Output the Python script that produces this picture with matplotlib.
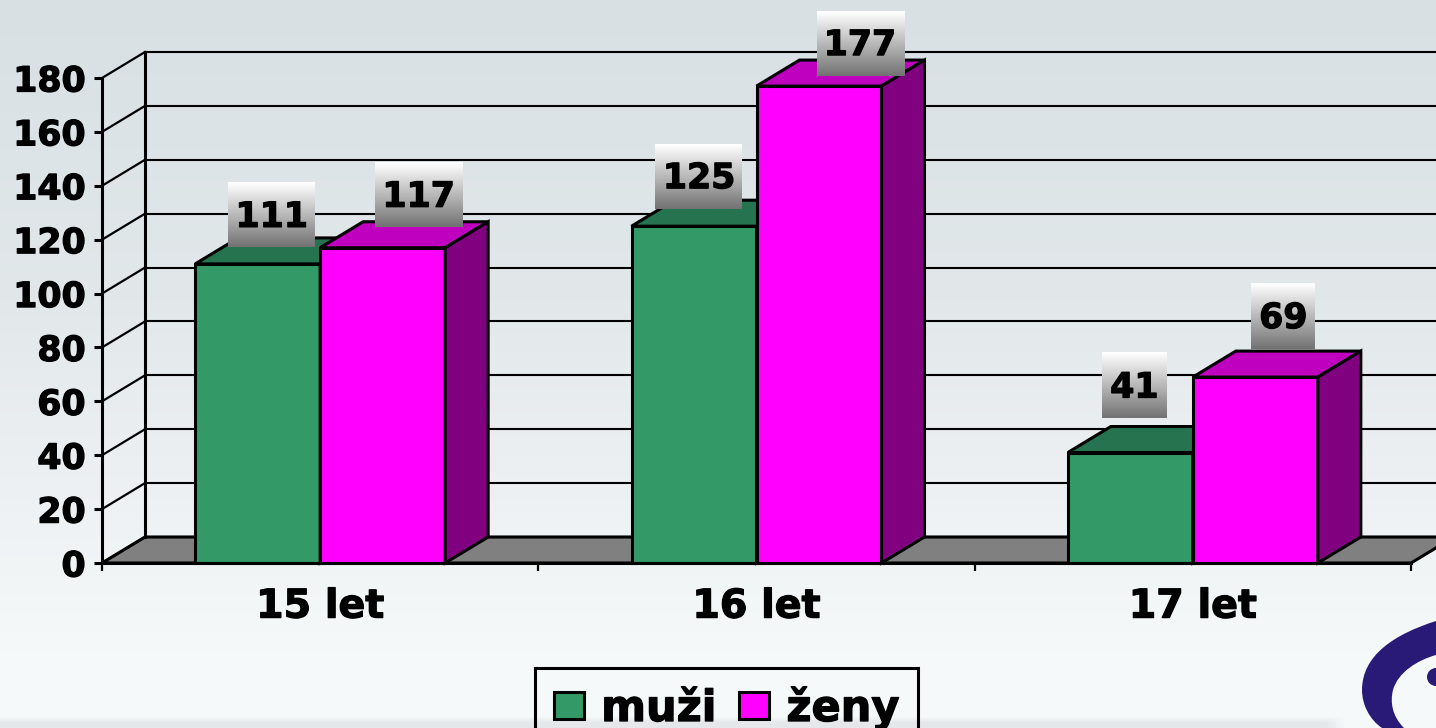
import numpy as np
import matplotlib
matplotlib.use("Agg")
import matplotlib.pyplot as plt
import matplotlib.patheffects as pe
from matplotlib.patches import Patch, Polygon, PathPatch
from matplotlib.path import Path

plt.rcParams['font.family'] = ['DejaVu Sans']
plt.rcParams['font.weight'] = 'bold'

# values
categories = ["15 let", "16 let", "17 let"]
series_names = ["muži", "ženy"]
muzi = [111, 125, 41]
zeny = [117, 177, 69]
y_ticks = list(range(0, 181, 20))

# colours per series: front, top, side
green = ("#339966", "#267350", "#1a4d33")
magenta = ("#ff00ff", "#bf00bf", "#800080")

# hand moved data labels, offset from the bar centre/top in pixels
muzi_label_offset = [(14, -49), (5, -50), (4, -67)]
zeny_label_offset = [(36, -53), (41, -43), (28, -61)]

W, H = 1436, 728
X0, X1 = 102, 1411
Y0, Y180 = 563, 78
DEPTH_X, DEPTH_Y = 43, 26
BAR_W = 125
LW = 2.2
LABEL_FS = 25
# the reference glyphs are heavier than DejaVu bold
HEAVY = [pe.withStroke(linewidth=0.9, foreground="black")]

px_x = 3 / (X1 - X0)
px_y = 180 / (Y0 - Y180)
dx = DEPTH_X * px_x
dy = DEPTH_Y * px_y
bar_w = BAR_W * px_x

fig = plt.figure(figsize=(W / 100, H / 100), dpi=100)

# background gradient and logo, in pixel coordinates
bg = fig.add_axes([0, 0, 1, 1], zorder=0)
bg.set_axis_off()
ys = [0, 300, 500, 650, 728]
stops = np.array([[216, 224, 228], [226, 232, 234], [238, 241, 243], [245, 249, 249], [246, 249, 249]]) / 255
base = np.stack([np.interp(np.arange(H), ys, stops[:, c]) for c in range(3)], axis=1)
img = np.repeat(base[:, None, :], W, axis=1)
# grey band at the foot fades out near the logo
band = np.clip((np.arange(H) - 716) / 6, 0, 1)[:, None, None] * np.clip((1345 - np.arange(W)) / 20, 0, 1)[None, :, None]
img = img * (1 - band) + np.array([228, 232, 234]) / 255 * band
bg.imshow(img, extent=(0, W, H, 0), aspect='auto', zorder=0)
bg.set_xlim(0, W)
bg.set_ylim(H, 0)

logo_verts = [(1436, 621), (1395, 634), (1362, 655), (1362, 690),
              (1362, 705), (1370, 720), (1382, 728),
              (1404, 728), (1404, 728), (1404, 728),
              (1392, 716), (1390, 702), (1393, 690),
              (1398, 672), (1418, 660), (1436, 655), (1436, 621)]
logo_codes = [Path.MOVETO, Path.CURVE4, Path.CURVE4, Path.CURVE4,
              Path.CURVE4, Path.CURVE4, Path.CURVE4,
              Path.LINETO, Path.LINETO, Path.LINETO,
              Path.CURVE4, Path.CURVE4, Path.CURVE4,
              Path.CURVE4, Path.CURVE4, Path.CURVE4, Path.LINETO]
bg.add_patch(PathPatch(Path(logo_verts, logo_codes), fc="#2a1a78", ec="none", zorder=1))
bg.add_patch(plt.Circle((1436, 677), 9, fc="#2a1a78", ec="none", zorder=1))

# main axes: x 0..3 and y 0..180 are the front plane of the 3D box
ax = fig.add_axes([X0 / W, 1 - Y0 / H, (X1 - X0) / W, (Y0 - Y180) / H], zorder=1)
ax.patch.set_alpha(0)
ax.set_xlim(0, 3)
ax.set_ylim(0, 180)
for s in ["top", "right"]:
    ax.spines[s].set_visible(False)
for s in ["left", "bottom"]:
    ax.spines[s].set_linewidth(LW)
    ax.spines[s].set_zorder(6)

ax.set_yticks(y_ticks)
ax.tick_params(axis='y', length=5.8, width=LW, pad=6, labelsize=LABEL_FS)
ax.set_xticks([0, 1, 2, 3])
ax.set_xticklabels([])
ax.tick_params(axis='x', length=5.8, width=1.6)
ax.set_xticks([0.5, 1.5, 2.5], minor=True)
ax.set_xticklabels(categories, minor=True, fontsize=28.5)
ax.tick_params(axis='x', which='minor', length=0, pad=17)
for t in ax.get_yticklabels() + ax.get_xticklabels(minor=True):
    t.set_path_effects(HEAVY)

# floor and walls
ax.add_patch(Polygon([(0, 0), (3, 0), (3 + dx, dy), (dx, dy)], fc="#808080", ec="black",
                     lw=LW, clip_on=False, zorder=1))
ax.plot([dx, dx], [dy, 180 + dy], color="black", lw=LW, clip_on=False, zorder=1)
for v in y_ticks:
    ax.plot([0, dx], [v, v + dy], color="black", lw=1.6, clip_on=False, zorder=1)
    ax.plot([dx, 3 + dx], [v + dy, v + dy], color="black", lw=1.5, clip_on=False, zorder=1)


def draw_bar(left, value, colours):
    right = left + bar_w
    ax.add_patch(Polygon([(left, 0), (right, 0), (right, value), (left, value)], fc=colours[0],
                         ec="black", lw=LW, joinstyle='miter', clip_on=False, zorder=3))
    ax.add_patch(Polygon([(left, value), (right, value), (right + dx, value + dy), (left + dx, value + dy)],
                         fc=colours[1], ec="black", lw=LW, joinstyle='miter', clip_on=False, zorder=3))
    ax.add_patch(Polygon([(right, 0), (right + dx, dy), (right + dx, value + dy), (right, value)],
                         fc=colours[2], ec="black", lw=LW, joinstyle='miter', clip_on=False, zorder=3))


def draw_label(cx, value, offset):
    # white to grey gradient box with the number on it
    x = cx + offset[0] * px_x
    y = value - offset[1] * px_y
    half_w = (32 if value < 100 else 43.5) * px_x
    half_h = 32.5 * px_y
    grad = np.linspace(1, 0.45, 64)[:, None]
    ax.imshow(grad, cmap='gray', vmin=0, vmax=1, aspect='auto', clip_on=False, zorder=5,
              extent=(x - half_w, x + half_w, y - half_h, y + half_h))
    ax.text(x, y - 2 * px_y, str(value), ha='center', va='center', fontsize=LABEL_FS, color="black",
            zorder=7, path_effects=HEAVY)


centres = np.arange(len(categories)) + 0.5
for i, c in enumerate(centres):
    draw_bar(c - bar_w, muzi[i], green)
    draw_bar(c, zeny[i], magenta)
for i, c in enumerate(centres):
    draw_label(c - bar_w / 2, muzi[i], muzi_label_offset[i])
    draw_label(c + bar_w / 2, zeny[i], zeny_label_offset[i])
ax.set_xlim(0, 3)
ax.set_ylim(0, 180)

handles = [Patch(fc=green[0], ec="black", lw=LW), Patch(fc=magenta[0], ec="black", lw=LW)]
leg = fig.legend(handles, series_names, ncol=2, loc='upper center', bbox_to_anchor=(726.5 / W, 1 - 668 / H),
                 fontsize=31, frameon=True, fancybox=False, edgecolor="black", facecolor="none", framealpha=1,
                 handlelength=0.7, handleheight=0.58, handletextpad=0.4, columnspacing=0.53,
                 borderpad=0.43, borderaxespad=0)
leg.get_frame().set_linewidth(LW)
for t in leg.get_texts():
    t.set_path_effects(HEAVY)

fig.savefig("out.png", dpi=100)
